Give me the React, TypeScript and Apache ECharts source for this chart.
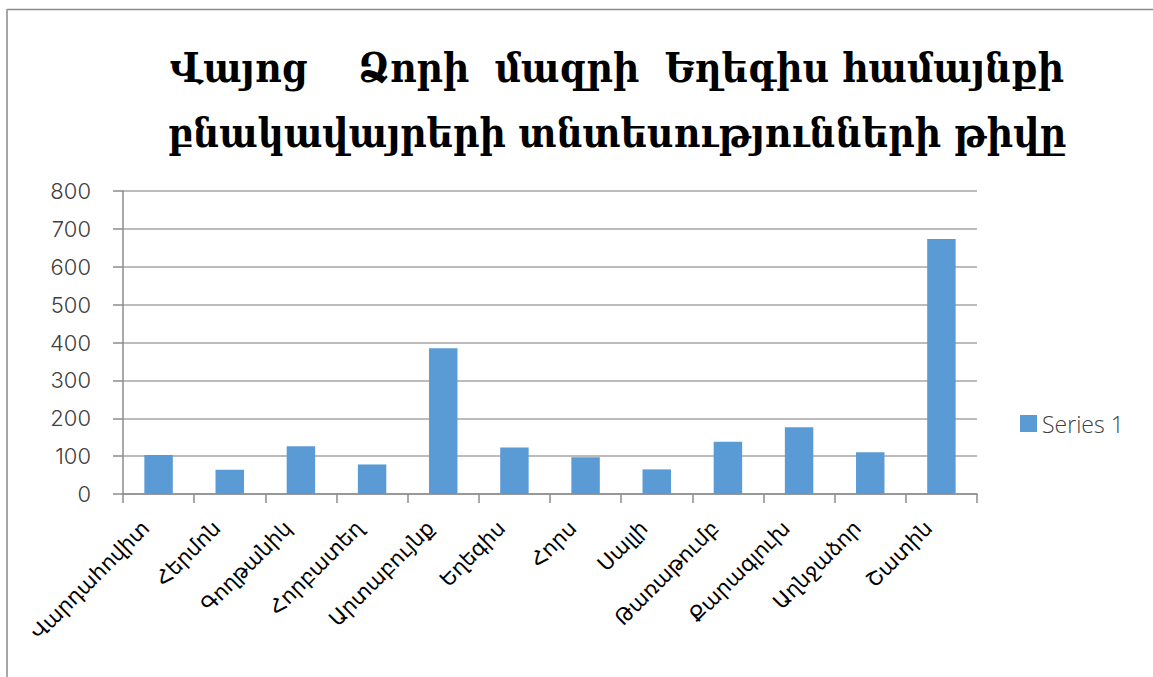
import React, { useEffect, useRef } from "react";
import * as echarts from "echarts";

const categories = [
  "Վարդահովիտ",
  "Հերմոն",
  "Գողթանիկ",
  "Հորբատեղ",
  "Արտաբույնք",
  "Եղեգիս",
  "Հորս",
  "Սալլի",
  "Թառաթումբ",
  "Քարագլուխ",
  "Աղնջաձոր",
  "Շատին",
];
const seriesName = "Series 1";
const values = [103, 64, 126, 78, 385, 123, 97, 65, 138, 176, 110, 673];
const titleLines = [
  "Վայոց\u00a0\u00a0\u00a0\u00a0Ձորի\u00a0\u00a0մազրի\u00a0\u00a0Եղեգիս համայնքի",
  "բնակավայրերի տնտեսությունների թիվը",
];

export default function App() {
  const ref = useRef<HTMLDivElement>(null);
  useEffect(() => {
    document.body.style.margin = "0";
    const chart = echarts.init(ref.current!, undefined, { renderer: "svg" });
    chart.setOption({
      animation: false,
      backgroundColor: "#ffffff",
      title: {
        text: titleLines.join("\n"),
        left: 612,
        textAlign: "center",
        top: 30,
        textStyle: {
          fontFamily: "'DejaVu Serif Condensed', 'DejaVu Serif'",
          fontSize: 40.5,
          fontWeight: "bold",
          color: "#000000",
          lineHeight: 65,
        },
      },
      legend: {
        data: [seriesName],
        left: 1020,
        top: 412,
        padding: 0,
        icon: "rect",
        itemWidth: 17,
        itemHeight: 17,
        itemGap: 7,
        textStyle: { fontFamily: "Open Sans", fontWeight: 300, fontSize: 23, color: "#404040" },
      },
      grid: { left: 123, right: 176, top: 191, bottom: 183, containLabel: false },
      xAxis: {
        type: "category",
        data: categories,
        axisLine: { lineStyle: { color: "#8c8c8c", width: 1.5 } },
        axisTick: { show: true, length: 9, inside: false, lineStyle: { color: "#8c8c8c", width: 1.5 } },
        axisLabel: {
          rotate: 45,
          interval: 0,
          margin: 18,
          padding: [0, 18, 0, 0],
          fontFamily: "DejaVu Sans",
          fontSize: 21,
          color: "#000000",
        },
      },
      yAxis: {
        type: "value",
        min: 0,
        max: 800,
        interval: 100,
        axisLine: { show: true, lineStyle: { color: "#8c8c8c", width: 1.5 } },
        axisTick: { show: true, length: 10, lineStyle: { color: "#8c8c8c", width: 1.5 } },
        splitLine: { lineStyle: { color: "#a6a6a6", width: 1.5 } },
        axisLabel: {
          margin: 32,
          fontFamily: "Inter",
          fontWeight: 300,
          fontSize: 22,
          color: "#404040",
        },
      },
      series: [
        {
          name: seriesName,
          type: "bar",
          data: values,
          barWidth: "40%",
          itemStyle: { color: "#5b9bd5" },
        },
      ],
      graphic: [
        { type: "line", shape: { x1: 7, y1: 9.5, x2: 1153, y2: 9.5 }, style: { stroke: "#8c8c8c", lineWidth: 1.5 } },
        { type: "line", shape: { x1: 7, y1: 9, x2: 7, y2: 677 }, style: { stroke: "#a6a6a6", lineWidth: 2 } },
      ],
    });
    return () => chart.dispose();
  }, []);
  return <div ref={ref} style={{ width: 1153, height: 677 }} />;
}
